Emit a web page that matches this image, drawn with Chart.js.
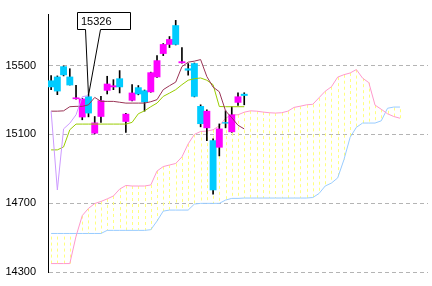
<!DOCTYPE html>
<html>
<head>
<meta charset="utf-8">
<script src="https://cdn.jsdelivr.net/npm/chart.js@4/dist/chart.umd.min.js"></script>
<style>
  html, body { margin: 0; padding: 0; background: #fff; }
  #wrap { width: 432px; height: 286px; }
</style>
</head>
<body>
<div id="wrap"><canvas id="ichimoku"></canvas></div>
<script>
// slots: 32 candle days + cloud shifted 25 ahead + a few empty
const slotCount = 61;
const yTicks = [14300, 14700, 15100, 15500];

// candles (magenta = up, cyan = down)
const opens  = [15412, 15434, 15494, 15434, 15307, 15201, 15319, 15107, 15204, 15356, 15376, 15424, 15175, 15298, 15372, 15354,
                15347, 15434, 15570, 15623, 15733, 15516, 15482, 15512, 15263, 15138, 15064, 15025, 15169, 15115, 15286, 15334];
const highs  = [15442, 15440, 15498, 15482, 15386, 15310, 15330, 15204, 15321, 15438, 15418, 15471, 15222, 15389, 15384, 15358,
                15462, 15558, 15628, 15669, 15763, 15605, 15512, 15515, 15272, 15243, 15074, 15161, 15237, 15261, 15342, 15342];
const lows   = [15360, 15331, 15440, 15387, 15305, 15185, 15202, 15103, 15169, 15335, 15360, 15341, 15111, 15295, 15330, 15235,
                15345, 15432, 15558, 15605, 15620, 15514, 15445, 15318, 15144, 15064, 14753, 14975, 15138, 15112, 15268, 15272];
const closes = [15376, 15352, 15446, 15387, 15313, 15306, 15224, 15167, 15296, 15393, 15383, 15376, 15218, 15341, 15335, 15288,
                15459, 15529, 15623, 15652, 15623, 15523, 15473, 15321, 15162, 15235, 14777, 15132, 15165, 15214, 15319, 15326];

// 転換線 / 基準線
const tenkan = [15235, 15235, 15237, 15261, 15263, 15263, 15272, 15315, 15292, 15292, 15292, 15287, 15282, 15282, 15282, 15282,
                15290, 15302, 15360, 15383, 15404, 15494, 15520, 15526, 15535, 15436, 15375, 15348, 15237, 15197, 15153, 15132];
const kijun  = [15010, 15010, 15027, 15127, 15160, 15160, 15160, 15160, 15160, 15160, 15160, 15160, 15160, 15170, 15220, 15237,
                15261, 15282, 15321, 15340, 15360, 15389, 15415, 15424, 15428, 15415, 15389, 15262, 15261, 15261, 15261, 15261];

// 遅行スパン
const chikou = [15235, 14777, 15132, 15165, 15214, 15319, 15326];

// 先行スパン A / B
const spanA = [14349, 14349, 14349, 14349, 14508, 14628, 14670, 14698, 14710, 14725, 14742, 14782, 14803, 14800, 14800, 14800,
               14806, 14887, 14913, 14922, 14931, 14969, 15045, 15100, 15117, 15119, 15127, 15150, 15194, 15214, 15214, 15229,
               15237, 15235, 15230, 15226, 15224, 15226, 15235, 15257, 15264, 15272, 15275, 15313, 15351, 15377, 15433, 15447,
               15457, 15477, 15427, 15401, 15270, 15246, 15220, 15204, 15194];
const spanB = [14524, 14524, 14524, 14524, 14524, 14524, 14524, 14524, 14524, 14542, 14542, 14542, 14542, 14542, 14542, 14542,
               14546, 14596, 14654, 14660, 14660, 14660, 14660, 14695, 14699, 14699, 14699, 14699, 14718, 14728, 14728, 14730,
               14730, 14730, 14730, 14730, 14730, 14730, 14730, 14730, 14730, 14730, 14733, 14756, 14800, 14817, 14847, 14952,
               15083, 15141, 15166, 15166, 15166, 15179, 15252, 15259, 15259];

const labels = Array.from({ length: slotCount }, (_, i) => String(i));
const bodies = opens.map((o, i) => [o, closes[i]]);
const wicks = lows.map((l, i) => [l, highs[i]]);
const bodyColors = opens.map((o, i) => closes[i] >= o ? '#ff00ff' : '#00ccff');

// 雲の点線
const cloudHatch = {
  id: 'cloudHatch',
  beforeDatasetsDraw(chart) {
    const { ctx, scales: { x, y } } = chart;
    ctx.save();
    ctx.strokeStyle = '#ffff80';
    ctx.lineWidth = 1;
    ctx.setLineDash([3, 3]);
    spanA.forEach((a, i) => {
      const px = Math.round(x.getPixelForValue(i)) + 0.5;
      ctx.beginPath();
      ctx.moveTo(px, y.getPixelForValue(a));
      ctx.lineTo(px, y.getPixelForValue(spanB[i]));
      ctx.stroke();
    });
    ctx.restore();
  }
};

// 吹き出し (遅行スパンの最新値)
const callout = {
  id: 'callout',
  afterDatasetsDraw(chart) {
    const { ctx, scales: { x, y } } = chart;
    const last = chikou.length - 1;
    const tipX = x.getPixelForValue(last);
    const tipY = y.getPixelForValue(chikou[last]);
    const l = 77.5, r = 130.5, t = 12.5, b = 29.5;
    ctx.save();
    ctx.beginPath();
    ctx.moveTo(l, t);
    ctx.lineTo(r, t);
    ctx.lineTo(r, b);
    ctx.lineTo(100.5, b);
    ctx.lineTo(tipX, tipY);
    ctx.lineTo(85.5, b);
    ctx.lineTo(l, b);
    ctx.closePath();
    ctx.fillStyle = '#fff';
    ctx.fill();
    ctx.strokeStyle = '#000';
    ctx.lineWidth = 1;
    ctx.stroke();
    ctx.fillStyle = '#000';
    ctx.font = '11px "Liberation Sans", Arial, sans-serif';
    ctx.textBaseline = 'middle';
    ctx.fillText(String(chikou[last]), 81, 21.5);
    ctx.restore();
  }
};

const lineStyle = { type: 'line', pointRadius: 0, borderWidth: 1, tension: 0, fill: false };

new Chart(document.getElementById('ichimoku'), {
  type: 'bar',
  data: {
    labels: labels,
    datasets: [
      { ...lineStyle, label: '遅行スパン', data: chikou, borderColor: '#cc99ff', order: 1 },
      { ...lineStyle, label: '転換線', data: tenkan, borderColor: '#993355', order: 2 },
      { ...lineStyle, label: '基準線', data: kijun, borderColor: '#99cc00', order: 3 },
      {
        label: '実体', data: bodies, backgroundColor: bodyColors, borderWidth: 0,
        grouped: false, categoryPercentage: 1, barPercentage: 1, order: 4
      },
      {
        label: 'ヒゲ', data: wicks, backgroundColor: '#000', borderWidth: 0,
        grouped: false, barThickness: 1, order: 5
      },
      { ...lineStyle, label: '先行スパンA', data: spanA, borderColor: '#ff99cc', order: 6 },
      { ...lineStyle, label: '先行スパンB', data: spanB, borderColor: '#99ccff', order: 7 }
    ]
  },
  options: {
    responsive: true,
    maintainAspectRatio: false,
    animation: false,
    layout: { padding: { left: 0, right: 4, top: 14, bottom: 14 } },
    plugins: {
      legend: { display: false },
      tooltip: { enabled: false }
    },
    scales: {
      x: { display: false, offset: true },
      y: {
        min: 14300,
        max: 15800,
        afterBuildTicks: (scale) => { scale.ticks = yTicks.map(v => ({ value: v })); },
        afterFit: (scale) => { scale.width = 48; },
        grid: { color: '#b4b4b4', drawTicks: true, tickLength: 5, tickColor: 'rgba(0,0,0,0)' },
        border: { display: true, color: '#000', width: 1, dash: [4, 3] },
        ticks: {
          color: '#000',
          padding: 7,
          callback: (v) => String(v),
          font: { family: '"Liberation Sans", Arial, sans-serif', size: 11 }
        }
      }
    }
  },
  plugins: [cloudHatch, callout]
});
</script>
</body>
</html>
